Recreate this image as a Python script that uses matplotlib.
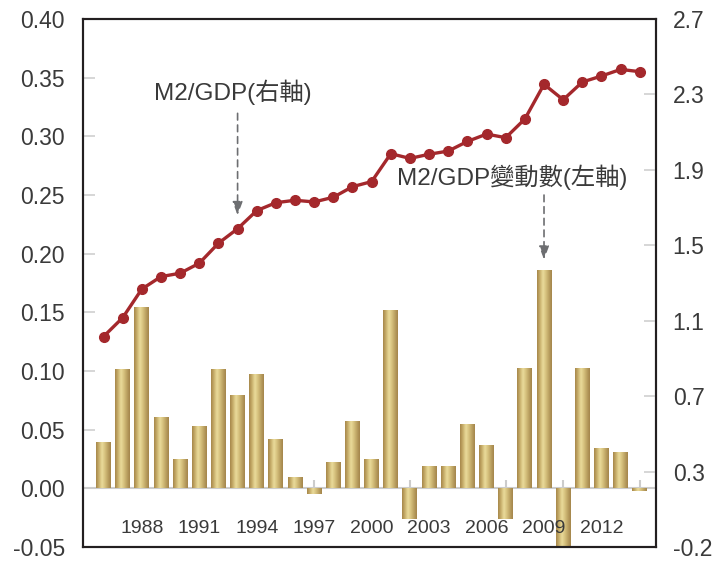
import numpy as np
import matplotlib
matplotlib.use('Agg')
import matplotlib.pyplot as plt
from matplotlib.colors import LinearSegmentedColormap

plt.rcParams['font.family'] = ['Liberation Sans', 'Noto Sans CJK TC', 'DejaVu Sans']
plt.rcParams['axes.unicode_minus'] = False

# Data
years = list(range(1986, 2015))
# M2/GDP change (left axis)
m2_change = [0.039, 0.101, 0.154, 0.060, 0.024, 0.052, 0.101, 0.079, 0.097, 0.041,
             0.009, -0.005, 0.022, 0.057, 0.024, 0.151, -0.026, 0.018, 0.018, 0.054,
             0.036, -0.026, 0.102, 0.185, -0.052, 0.102, 0.034, 0.030, -0.002]
# M2/GDP ratio (right axis)
m2_gdp = [1.016, 1.116, 1.268, 1.334, 1.352, 1.405, 1.511, 1.588, 1.684, 1.726,
          1.739, 1.730, 1.755, 1.811, 1.838, 1.986, 1.961, 1.983, 2.000, 2.051,
          2.090, 2.071, 2.170, 2.354, 2.272, 2.366, 2.398, 2.433, 2.421]
xtick_years = [1988, 1991, 1994, 1997, 2000, 2003, 2006, 2009, 2012]
left_ticks = [-0.05, 0.00, 0.05, 0.10, 0.15, 0.20, 0.25, 0.30, 0.35, 0.40]
right_ticks = [-0.1, 0.3, 0.7, 1.1, 1.5, 1.9, 2.3, 2.7]
right_labels = ['-0.2', '0.3', '0.7', '1.1', '1.5', '1.9', '2.3', '2.7']

txt_color = '#3a3a3a'
spine_color = '#231f20'
tick_gray = '#cccccc'
line_red = '#a4282c'
arrow_gray = '#6d6e71'

fig = plt.figure(figsize=(7.17, 5.61), dpi=100)
ax = fig.add_axes([0.1158, 0.025, 0.7992, 0.941])
ax2 = ax.twinx()

# Zero line and small year ticks
ax.axhline(0, color=tick_gray, lw=1.5, zorder=1)
ax.vlines(years, 0, 0.0075, color=tick_gray, lw=1.5, zorder=1)

# Gold gradient bars
gold = LinearSegmentedColormap.from_list(
    'gold', ['#a6864a', '#c9b06c', '#ebdc9c', '#d6c17e', '#bca262', '#a3844a'])
grad = np.linspace(0, 1, 64).reshape(1, -1)
bars = ax.bar(years, m2_change, width=0.78, facecolor='none', edgecolor='none', zorder=2)
for b in bars:
    x0 = b.get_x()
    x1 = x0 + b.get_width()
    y0 = min(b.get_y(), b.get_y() + b.get_height())
    y1 = max(b.get_y(), b.get_y() + b.get_height())
    im = ax.imshow(grad, cmap=gold, extent=[x0, x1, y0, y1], aspect='auto',
                   interpolation='bicubic', zorder=2)
    im.set_clip_path(b)
    im.set_clip_box(ax.bbox)

ax.set_xlim(1984.93, 2014.85)
ax.set_ylim(-0.05, 0.40)
ax.set_yticks(left_ticks)
ax.set_yticklabels(['%.2f' % v for v in left_ticks])
ax.set_xticks([])
for yr in xtick_years:
    ax.text(yr, -0.034, str(yr), ha='center', va='center', fontsize=14,
            color=txt_color)

# M2/GDP line on right axis
ax2.plot(years, m2_gdp, color=line_red, lw=2.4, marker='o', ms=7, zorder=3)
ax2.set_ylim(-0.1, 2.7)
ax2.set_yticks(right_ticks)
ax2.set_yticklabels(right_labels)

for a in (ax, ax2):
    for s in a.spines.values():
        s.set_color(spine_color)
        s.set_linewidth(1.5)
ax.tick_params(axis='y', direction='in', length=8.5, width=1.1, color=tick_gray,
               pad=13, labelsize=16.5, labelcolor=txt_color)
ax2.tick_params(axis='y', direction='in', length=8.5, width=1.1, color=tick_gray,
                pad=12, labelsize=16.5, labelcolor=txt_color)
ax.tick_params(axis='x', length=0)

# Annotations
ax2.text(1992.76, 2.31, 'M2/GDP(右軸)', ha='center', va='center', fontsize=17.5,
         color=txt_color)
ax2.annotate('', xy=(1993, 1.66), xytext=(1993, 2.20),
             arrowprops=dict(arrowstyle='-|>,head_length=0.8,head_width=0.3',
                             color=arrow_gray, lw=1.2, linestyle=(0, (4, 3)),
                             shrinkA=0, shrinkB=0))
ax.text(2007.33, 0.265, 'M2/GDP變動數(左軸)', ha='center', va='center', fontsize=17.5,
        color=txt_color)
ax.annotate('', xy=(2009, 0.195), xytext=(2009, 0.25),
            arrowprops=dict(arrowstyle='-|>,head_length=0.8,head_width=0.3',
                            color=arrow_gray, lw=1.2, linestyle=(0, (4, 3)),
                            shrinkA=0, shrinkB=0))

plt.savefig('out.png', dpi=100)
